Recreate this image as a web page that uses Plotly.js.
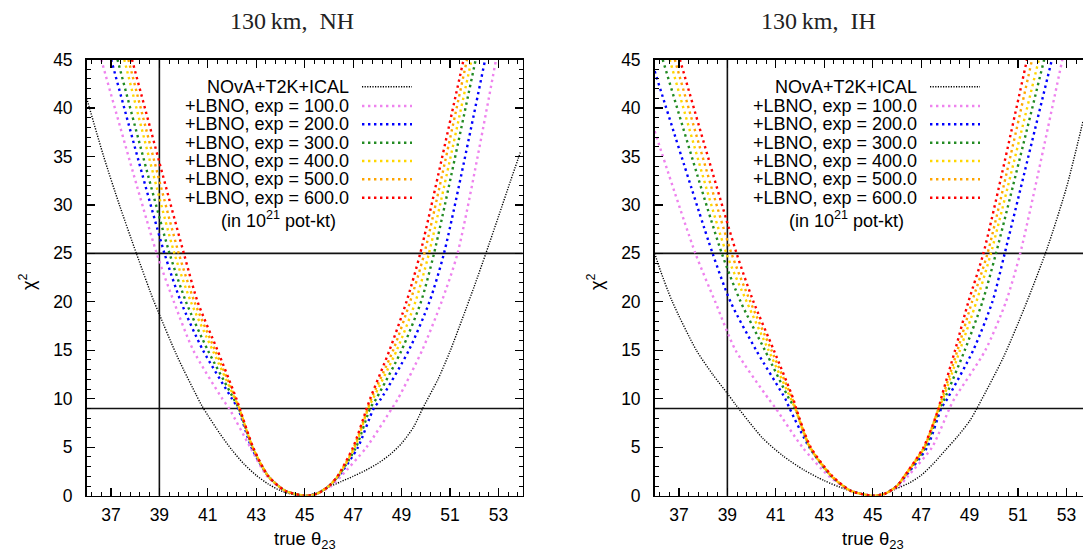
<!DOCTYPE html>
<html>
<head>
<meta charset="utf-8">
<script src="https://cdn.plot.ly/plotly-3.0.1.min.js"></script>
<style>
html,body{margin:0;padding:0;background:#fff;}
#chart{width:1083px;height:551px;}
</style>
</head>
<body>
<div id="chart"></div>
<script>
// ---------------- data ----------------
const panelTitles = ["130\u2009km,  NH", "130\u2009km,  IH"];
const seriesNames = ["NOvA+T2K+ICAL", "+LBNO, exp = 100.0", "+LBNO, exp = 200.0", "+LBNO, exp = 300.0",
                     "+LBNO, exp = 400.0", "+LBNO, exp = 500.0", "+LBNO, exp = 600.0"];
const legendNote = "(in 10<sup>21</sup> pot-kt)";
const xTickVals = [37, 39, 41, 43, 45, 47, 49, 51, 53];
const yTickVals = [0, 5, 10, 15, 20, 25, 30, 35, 40, 45];
const refChi2 = [9, 25];
const refTheta = [39];

// NH panel
const nhBlackX = [36.0, 36.7, 37.35, 38.05, 38.75, 39.0, 39.66, 40.0, 40.5, 40.75, 41.0, 41.5, 42.0, 42.5, 43.0, 43.5, 44.0, 44.5, 45.0,
                  45.5, 46.0, 46.5, 47.0, 47.5, 48.0, 48.5, 49.0, 49.5, 49.87, 50.5, 51.0, 51.5, 52.0, 52.48, 53.0, 53.5, 53.9];
const nhBlackY = [41.0, 35.0, 30.0, 25.0, 20.2, 18.7, 14.8, 13.0, 10.5, 9.3, 8.3, 6.4, 4.7, 3.25, 2.1, 1.2, 0.52, 0.13, 0.0,
                  0.3, 0.9, 1.45, 2.0, 2.6, 3.3, 4.2, 5.4, 7.1, 9.0, 12.0, 14.9, 18.2, 21.6, 25.0, 28.8, 32.5, 35.4];
const nhLevels = [45, 25, 20, 15, 10, 9, 5, 2, 0.5, 0, 0.2, 1, 2, 5, 9, 10, 15, 20, 25, 45];
const nh100X = [36.6, 38.89, 39.6, 40.4, 41.6, 41.88, 42.75, 43.45, 44.2, 45.0, 45.5, 46.1, 46.5, 47.55, 48.6, 48.85, 49.85, 50.65, 51.31, 52.9];
const nh200X = [37.01, 39.21, 39.89, 40.8, 42.0, 42.25, 42.8, 43.5, 44.2, 45.0, 45.5, 46.0, 46.4, 47.2, 47.85, 48.15, 49.3, 50.15, 50.75, 52.45];
const nh300X = [37.27, 39.42, 40.1, 41.0, 42.07, 42.28, 42.85, 43.5, 44.2, 45.0, 45.5, 46.0, 46.38, 47.12, 47.7, 47.95, 49.0, 49.8, 50.34, 52.06];
const nh400X = [37.55, 39.62, 40.3, 41.2, 42.12, 42.3, 42.85, 43.5, 44.2, 45.0, 45.5, 46.0, 46.37, 47.07, 47.62, 47.82, 48.8, 49.57, 50.13, 51.89];
const nh500X = [37.72, 39.8, 40.45, 41.3, 42.15, 42.3, 42.85, 43.5, 44.2, 45.0, 45.5, 46.0, 46.36, 47.03, 47.6, 47.75, 48.65, 49.35, 49.94, 51.7];
const nh600X = [37.87, 40.01, 40.58, 41.4, 42.18, 42.32, 42.87, 43.5, 44.2, 45.0, 45.5, 46.0, 46.35, 47.0, 47.56, 47.7, 48.5, 49.2, 49.77, 51.56];

// IH panel
const ihBlackX = [36.0, 36.24, 36.73, 37.72, 38.4, 39.0, 39.34, 39.9, 40.47, 41.3, 42.16, 43.0, 43.84, 44.55, 45.0,
                  45.5, 46.0, 46.5, 47.0, 47.5, 48.0, 48.5, 49.0, 49.3, 50.4, 51.3, 52.2, 53.0, 53.68];
const ihBlackY = [25, 23.2, 20, 15, 12.5, 10.55, 9.4, 7.6, 5.9, 4.1, 2.65, 1.55, 0.7, 0.2, 0,
                  0.2, 0.75, 1.3, 2.1, 3.3, 4.7, 6.1, 7.7, 9, 14.3, 19.6, 25.5, 31.8, 38.6];
const ih100X = [36.0, 37.68, 38.5, 39.34, 40.7, 41.0, 42.1, 43.2, 44.1, 45.0, 45.5, 46.1, 46.45, 47.45, 48.17, 48.37, 49.65, 50.5, 51.09, 52.83];
const ih100Y = [37.6, 25, 20, 15, 10, 9, 5, 2, 0.5, 0, 0.2, 1, 2, 5, 9, 10, 15, 20, 25, 45];
const ih200X = [36.0, 38.39, 39.13, 40.19, 41.39, 41.57, 42.38, 43.3, 44.1, 45.0, 45.5, 46.0, 46.35, 47.25, 47.83, 48.08, 49.15, 49.94, 50.45, 52.4];
const ih200Y = [43.8, 25, 20, 15, 10, 9, 5, 2, 0.5, 0, 0.2, 1, 2, 5, 9, 10, 15, 20, 25, 45];
const ihLevels = [45, 25, 20, 15, 10, 9, 5, 2, 0.5, 0, 0.2, 1, 2, 5, 9, 10, 15, 20, 25, 45];
const ih300X = [36.33, 38.77, 39.55, 40.55, 41.55, 41.8, 42.4, 43.3, 44.1, 45.0, 45.5, 46.0, 46.32, 47.18, 47.77, 47.97, 48.8, 49.53, 50.09, 52.08];
const ih400X = [36.62, 38.96, 39.8, 40.7, 41.62, 41.8, 42.4, 43.3, 44.1, 45.0, 45.5, 46.0, 46.31, 47.14, 47.72, 47.9, 48.6, 49.28, 49.88, 51.86];
const ih500X = [36.83, 39.17, 39.95, 40.82, 41.68, 41.82, 42.42, 43.32, 44.1, 45.0, 45.5, 46.0, 46.3, 47.12, 47.72, 47.86, 48.5, 49.1, 49.74, 51.58];
const ih600X = [37.04, 39.38, 40.08, 40.92, 41.72, 41.84, 42.44, 43.34, 44.1, 45.0, 45.5, 46.0, 46.3, 47.1, 47.72, 47.82, 48.4, 48.95, 49.57, 51.37];

// ---------------- styles ----------------
const colors = ["#000000", "#ee82ee", "#0000ff", "#228b22", "#ffd700", "#ffa500", "#ff0000"];
const W = 1083, H = 551;
const L1 = 86.7, L2 = 654.7, PW = 436, TOP = 59.5, BOT = 495.7;
const pxPerUnit = PW / 18;
const FONT = "Liberation Sans, Arial, sans-serif";

function lineStyle(i) {
  return i === 0 ? {color: colors[0], width: 1.4, dash: "1.2px,1.4px", shape: "spline", smoothing: 0.7}
                 : {color: colors[i], width: 2.4, dash: "2.4px,3.6px", shape: "spline", smoothing: 0.7};
}

const nhSets = [[nhBlackX, nhBlackY], [nh100X, nhLevels], [nh200X, nhLevels], [nh300X, nhLevels],
                [nh400X, nhLevels], [nh500X, nhLevels], [nh600X, nhLevels]];
const ihSets = [[ihBlackX, ihBlackY], [ih100X, ih100Y], [ih200X, ih200Y], [ih300X, ihLevels],
                [ih400X, ihLevels], [ih500X, ihLevels], [ih600X, ihLevels]];

const traces = [];
nhSets.forEach((s, i) => traces.push({x: s[0], y: s[1], type: "scatter", mode: "lines", name: seriesNames[i],
  xaxis: "x", yaxis: "y", line: lineStyle(i), showlegend: false, hoverinfo: "skip"}));
ihSets.forEach((s, i) => traces.push({x: s[0], y: s[1], type: "scatter", mode: "lines", name: seriesNames[i],
  xaxis: "x2", yaxis: "y2", line: lineStyle(i), showlegend: false, hoverinfo: "skip"}));

function xAxis(domain, range, anchor) {
  return {domain: domain, range: range, anchor: anchor, tickmode: "array", tickvals: xTickVals,
    ticks: "inside", ticklen: 8, tickwidth: 1.2, tickcolor: "#000",
    minor: {ticks: "inside", ticklen: 4, tickwidth: 1, tickcolor: "#000", tick0: 37, dtick: 0.4},
    showline: true, linecolor: "#000", linewidth: 1.6, mirror: "ticks",
    showgrid: false, zeroline: false, fixedrange: true,
    tickfont: {family: FONT, size: 17.5, color: "#000"}, ticklabelstandoff: 3};
}
function yAxis(domain, anchor, mirror) {
  return {domain: domain, range: [0, 45], anchor: anchor, tickmode: "array", tickvals: yTickVals,
    ticks: "inside", ticklen: 8, tickwidth: 1.2, tickcolor: "#000",
    minor: {ticks: "inside", ticklen: 4, tickwidth: 1, tickcolor: "#000", tick0: 0, dtick: 1},
    showline: true, linecolor: "#000", linewidth: 1.6, mirror: mirror,
    showgrid: false, zeroline: false, fixedrange: true,
    tickfont: {family: FONT, size: 17.5, color: "#000"}, ticklabelstandoff: 9};
}

const yDom = [(H - BOT) / H, (H - TOP) / H];
const layout = {
  width: W, height: H, autosize: false,
  margin: {l: 0, r: 0, t: 0, b: 0, pad: 0},
  paper_bgcolor: "#fff", plot_bgcolor: "#fff",
  showlegend: false,
  xaxis: xAxis([L1 / W, (L1 + PW) / W], [36, 54], "y"),
  yaxis: yAxis(yDom, "x", "ticks"),
  xaxis2: xAxis([L2 / W, 1], [36, 36 + (W - L2) / pxPerUnit], "y2"),
  yaxis2: yAxis(yDom, "x2", false),
  shapes: [],
  annotations: []
};

// reference lines
[["x", "y"], ["x2", "y2"]].forEach(([xr, yr]) => {
  refChi2.forEach(v => layout.shapes.push({type: "line", xref: xr + " domain", yref: yr, x0: 0, x1: 1, y0: v, y1: v,
    line: {color: "#111", width: 1.6}, layer: "below"}));
  refTheta.forEach(v => layout.shapes.push({type: "line", xref: xr, yref: yr + " domain", x0: v, x1: v, y0: 0, y1: 1,
    line: {color: "#111", width: 1.6}, layer: "below"}));
});

// legend (text right-aligned, sample to the right), axis titles
const legendRows = [86.7, 106, 124.3, 142.7, 161, 179.3, 197.7];
[0, L2 - L1].forEach((off, p) => {
  seriesNames.forEach((nm, i) => {
    const yy = 1 - legendRows[i] / H;
    layout.annotations.push({xref: "paper", yref: "paper", x: (349.5 + off) / W, y: yy, xanchor: "right", yanchor: "middle",
      text: nm, showarrow: false, font: {family: FONT, size: 18, color: "#000"}, borderpad: 0});
    const ls = lineStyle(i);
    layout.shapes.push({type: "line", xref: "paper", yref: "paper", x0: (362 + off) / W, x1: (412 + off) / W, y0: yy, y1: yy,
      line: {color: ls.color, width: ls.width, dash: ls.dash}});
  });
  layout.annotations.push({xref: "paper", yref: "paper", x: (278.5 + off) / W, y: 1 - 220 / H, xanchor: "center", yanchor: "middle",
    text: legendNote, showarrow: false, font: {family: FONT, size: 18, color: "#000"}, borderpad: 0});
  layout.annotations.push({xref: "paper", yref: "paper", x: (L1 + off + PW / 2) / W, y: 1 - 527 / H, xanchor: "center", yanchor: "top",
    text: "true \u03b8<sub>23</sub>", showarrow: false, font: {family: FONT, size: 18.5, color: "#000"}, borderpad: 0});
  layout.annotations.push({xref: "paper", yref: "paper", x: (27 + off) / W, y: 1 - 282 / H, xanchor: "center", yanchor: "middle",
    text: "\u03c7<sup>2</sup>", textangle: -90, showarrow: false, font: {family: FONT, size: 18, color: "#000"}, borderpad: 0});
});
const titleCenters = [292, 818];
panelTitles.forEach((t, p) => layout.annotations.push({xref: "paper", yref: "paper", x: titleCenters[p] / W, y: 1 - 21 / H,
  xanchor: "center", yanchor: "middle", text: t, showarrow: false,
  font: {family: "Liberation Serif, Times New Roman, serif", size: 24, color: "#222"}}));

Plotly.newPlot("chart", traces, layout, {staticPlot: true, displayModeBar: false});
</script>
</body>
</html>
